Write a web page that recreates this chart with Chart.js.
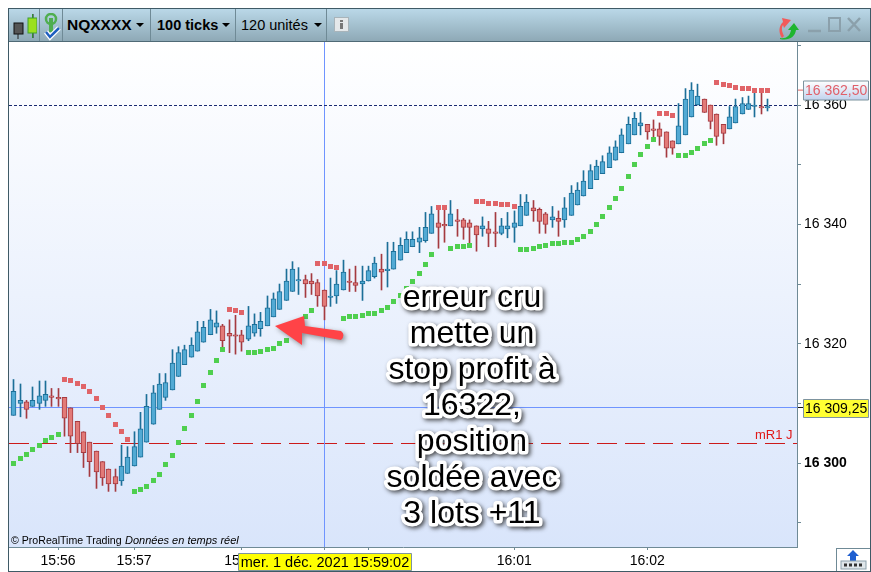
<!DOCTYPE html>
<html>
<head>
<meta charset="utf-8">
<title>NQXXXX</title>
<script src="https://cdn.jsdelivr.net/npm/chart.js@4/dist/chart.umd.min.js"></script>
<style>
  html, body { margin: 0; padding: 0; background: #fff; }
  body { width: 871px; height: 572px; position: relative; overflow: hidden; font-family: "Liberation Sans", Arial, sans-serif; color: #000; }
  #myChart { position: absolute; left: 0; top: 0; }
  #frame { position: absolute; left: 8px; top: 8px; width: 861px; height: 562px; border: 1px solid #3f5a66; pointer-events: none; }
  #toolbar { position: absolute; left: 9px; top: 9px; width: 861px; height: 32px; border-bottom: 1px solid #4f6a76; background: linear-gradient(#bad8e8, #8ea9b6); font-size: 15px; line-height: 32px; }
  #toolbar span, #toolbar i, #toolbar svg { position: absolute; }
  #toolbar i { top: 0; width: 1px; height: 32px; background: #6f8a96; }
  #toolbar .arrow { top: 14px; width: 0; height: 0; border-left: 4px solid transparent; border-right: 4px solid transparent; border-top: 4px solid #000; }
  #corner { position: absolute; left: 836px; top: 548px; width: 33px; height: 22px; border-left: 1px solid #6f8a96; border-top: 1px solid #6f8a96; }
</style>
</head>
<body>
<canvas id="myChart" width="871" height="572"></canvas>
<div id="toolbar">
  <svg style="left:4px;top:4px" width="24" height="26"><path d="M5 13v14M20 1v24" stroke="#222" stroke-width="1"/><rect x="1" y="10" width="9" height="11" fill="#555" stroke="#111"/><path d="M19.500 1v24" stroke="#2f8f2f"/><rect x="15" y="5" width="9" height="15" fill="#9be01f" stroke="#3f9f2f"/></svg>
  <i style="left:30px"></i>
  <svg style="left:34px;top:4px" width="20" height="28"><ellipse cx="8" cy="6" rx="5" ry="5" fill="none" stroke="#4fae4f" stroke-width="2.500"/><path d="M8 5v14" stroke="#4fae4f" stroke-width="4"/><path d="M3 19l4 5 9-9" fill="none" stroke="#fff" stroke-width="5"/><path d="M3 19l4 5 9-9" fill="none" stroke="#1f5fc0" stroke-width="2.500"/></svg>
  <i style="left:53px"></i>
  <span style="left:58px;font-weight:bold;font-size:15.500px">NQXXXX</span>
  <span class="arrow" style="left:127px"></span>
  <i style="left:141px"></i>
  <span style="left:148px;font-weight:bold;font-size:14.500px">100 ticks</span>
  <span class="arrow" style="left:213px"></span>
  <i style="left:226px"></i>
  <span style="left:232px;font-size:14.500px">120 unités</span>
  <span class="arrow" style="left:305px"></span>
  <i style="left:317px"></i>
  <svg style="left:325px;top:8px" width="16" height="16"><rect x="0.500" y="0.500" width="14" height="14" fill="#e4e8ea" stroke="#a8b4ba"/><rect x="6" y="3" width="3" height="2" fill="#777"/><rect x="6" y="6" width="3" height="6" fill="#777"/></svg>
  <svg style="left:764px;top:5px" width="28" height="26"><path d="M9 24C5 18 6 12 10 8l-1-4 9 2-7 8-1-3c-2 3-1 7 1 11z" fill="#f25a5a"/><path d="M7 24c6 1 10-2 11-8h-3l6-7 5 7h-3c-1 7-7 11-16 9z" fill="#1fb52f"/></svg>
  <svg style="left:797px;top:6px" width="58" height="20"><path d="M2 16h13" stroke="#8ba0ab" stroke-width="2.500"/><rect x="23" y="3" width="11" height="13" fill="none" stroke="#8ba0ab" stroke-width="2"/><path d="M42 3l12 13M54 3l-12 13" stroke="#8ba0ab" stroke-width="2.500"/></svg>
</div>
<div id="frame"></div>
<div id="corner">
  <svg width="33" height="22"><path d="M16 1l6 6h-3v5h-6V7h-3z" fill="#1f5fd0"/><rect x="4" y="12" width="25" height="8" fill="#dfe6ea" stroke="#8ba0ab"/><path d="M7 16h3M12 16h3M17 16h3M22 16h3" stroke="#333" stroke-width="3"/></svg>
</div>
<script>
const opens = [
  16308,16310,16310.25,16309.5,16310,16310.5,16311.25,16311,16311,16309.25,
  16307,16305.25,16303.5,16302,16300.25,16299,16297.75,16297,16298.25,16299.5,
  16301,16303.5,16306.5,16309,16311,16312.25,16314.5,16316.5,16317.75,16318.75,
  16320.25,16321.5,16322.75,16323,16321.75,16321.5,16321.5,16320.75,16321.75,16322.5,
  16323,16324.5,16325.75,16327.25,16328.75,16330.5,16330.75,16330.5,16330.25,16329,
  16327.75,16328,16329,16330.5,16330.25,16330,16330.5,16331.25,16332.5,16332.25,
  16332.5,16334,16335.25,16336.25,16337,16337.25,16338.5,16340.25,16340,16339.75,
  16340.75,16340.75,16340.25,16339.75,16339.25,16339.25,16338.75,16338.5,16339.25,16339.5,
  16339.75,16341.5,16342.75,16342.5,16341.75,16340.75,16341,16340.75,16341.5,16343.25,
  16344.75,16346,16347.5,16348.5,16349.5,16350.75,16352,16353.5,16355,16356.5,
  16356.75,16356,16356,16355.5,16354,16353.5,16355,16358,16360,16361,
  16360,16358.5,16356.75,16356,16357,16358.5,16359.25,16359.75,16359.75,16359.5
];
const highs = [
  16314,16313.25,16310.5,16312.75,16313.75,16313.75,16312.5,16312.5,16311,16309.25,
  16307,16305.25,16303.5,16302,16300.25,16299,16299,16303,16302.75,16305.25,
  16308.5,16311.5,16313,16315,16315,16319,16319.5,16319.75,16321,16323.75,
  16323.75,16325.75,16325.5,16323.25,16324,16324.75,16322.25,16326.25,16325,16325.25,
  16328,16328.5,16330,16332.5,16333.75,16332.75,16331.5,16331.75,16330.75,16329,
  16331,16332.25,16334,16332.5,16333,16333,16333,16334.5,16335,16337,
  16337,16337.75,16338.75,16338.75,16339.5,16342,16343,16342.5,16342.5,16344,
  16342.5,16341,16340.75,16339.75,16341.25,16340.5,16342,16341,16342,16342.25,
  16345,16345,16344,16342.75,16342,16343,16342.25,16344.5,16346.5,16347,
  16349,16350,16350.75,16351.5,16353,16354,16356,16358,16358.75,16358.75,
  16356.75,16357.5,16357,16355.5,16354,16360.25,16362.75,16363.75,16363.5,16361,
  16360,16358.5,16356.75,16359.75,16361,16361.25,16361.5,16362,16362,16361
];
const lows = [
  16308,16307.75,16307.5,16309.5,16309,16309.5,16309.5,16309.5,16304.5,16301.75,
  16301.75,16299.25,16297.75,16295.75,16296.25,16295.25,16295.25,16296.25,16298.25,16299.5,
  16301,16303.5,16306.5,16309,16310.5,16312.25,16314.5,16316.5,16317.75,16318.75,
  16320.25,16321.5,16321.75,16318.75,16318.5,16318.25,16318.75,16320.5,16321.25,16321.25,
  16323,16324.5,16325.75,16327.25,16328.75,16328.25,16327.75,16328.25,16326.25,16324,
  16326.25,16326.75,16329,16328.75,16328.75,16327.25,16330.5,16331,16329,16329.5,
  16332.5,16334,16335.25,16336.25,16335.25,16337,16338.5,16336,16337,16339.75,
  16338,16337.5,16336.75,16335.5,16338,16336.25,16336.25,16338.25,16337.75,16337,
  16339.75,16341.5,16340.5,16338.5,16338.5,16339.5,16338,16339.5,16341.5,16343.25,
  16344.75,16346,16347.5,16348.5,16349.5,16350.75,16352,16353.5,16355,16355,
  16354.25,16354,16353.25,16351.25,16351.75,16353.5,16355,16358,16360,16358.75,
  16356,16353.25,16353.5,16356,16357,16358.5,16359.25,16358,16358.5,16359
];
const closes = [
  16312,16310.5,16309,16310.5,16311.25,16311.5,16311,16310.75,16307.5,16304.5,
  16303.25,16301.75,16300.25,16298.5,16297.5,16296.5,16296.5,16299.5,16301,16302.75,
  16305.75,16309.5,16311.75,16313.25,16313.5,16316.75,16318.5,16319,16319.75,16322,
  16322.75,16324,16323.5,16320.5,16321.25,16321.25,16320.25,16323,16323.25,16323.75,
  16326,16327.5,16328.75,16330.5,16332.5,16330.75,16330,16330,16328,16326.25,
  16328,16330,16332,16330.25,16329.75,16330.5,16332.25,16333.5,16332,16332.5,
  16335.5,16336.5,16337.5,16337.5,16337.75,16339.5,16341.75,16339.5,16339.75,16341.75,
  16340.5,16339.5,16339.5,16338.25,16339.75,16338.5,16338.5,16339.75,16339.75,16340.25,
  16343,16343.75,16342.25,16340.5,16340,16341.25,16340.5,16342.75,16345.25,16345.75,
  16347.25,16349,16349.75,16350.5,16352,16353,16355,16356.75,16357.75,16357,
  16355.5,16355.75,16354.75,16352.75,16352.75,16356.5,16361,16362.5,16361.5,16358.75,
  16357.25,16354.75,16355.25,16358,16359.75,16360.25,16360.25,16360,16359.5,16359.75
];
const _ = null;
const stopUp = [
  16300,16300.75,16301.5,16302.25,16303,16303.75,16304.25,16304.75,_,_,
  _,_,_,_,_,_,_,_,_,16295.25,
  16295.5,16296,16297,16298,16299.75,16301.25,16303.5,16305.75,16308,16310.25,
  16313,16315.25,16317.25,16319,_,_,_,16318.5,16318.5,16318.75,
  16319,16319.25,16320,16320.5,16321.75,16323,16324.5,16325.5,_,_,
  _,_,16324.25,16324.5,16324.5,16324.75,16325,16325,16325.5,16326,
  16327,16328,16329.25,16330.5,16331.75,16333.25,16335,_,_,16336,
  16336.25,16336.25,16336.5,_,_,_,_,_,_,_,
  16335.75,16335.75,16336,16336.25,16336.5,16336.75,16336.75,16337,16337,16337.5,
  16338,16338.75,16340,16341.25,16342.75,16344.25,16346,16348,16350,16351.75,
  16353,16354.25,_,_,_,16351.5,16351.5,16352,16352.75,16353.5,
  16354,_,_,_,_,_,_,_,_,_
];
const stopDown = [
  _,_,_,_,_,_,_,_,16314,16313.75,
  16313.25,16312.75,16312,16310.75,16309.25,16308,16306.5,16305.25,16304,_,
  _,_,_,_,_,_,_,_,_,_,
  _,_,_,_,16325.75,16325.5,16325.25,_,_,_,
  _,_,_,_,_,_,_,_,16333.5,16333.5,
  16333,16332.75,_,_,_,_,_,_,_,_,
  _,_,_,_,_,_,_,16342.75,16342.75,_,
  _,_,_,16343.75,16343.75,16343.5,16343.5,16343.25,16343.25,16343,
  _,_,_,_,_,_,_,_,_,_,
  _,_,_,_,_,_,_,_,_,_,
  _,_,16358.5,16358.5,16358.25,_,_,_,_,_,
  _,16363.75,16363.5,16363.25,16363,16362.75,16362.75,16362.5,16362.5,16362.5
];
const xTickIndex = [7, 19, 36, 49, 56, 79, 100];
const xTickLabels = ['15:56', '15:57', '15:58', '15:59', '16:00', '16:01', '16:02'];
const yTickValues = [16290, 16300, 16310, 16320, 16330, 16340, 16350, 16360, 16370];
const yTickLabels = ['', '16 300', '', '16 320', '', '16 340', '', '16 360', ''];
const lastPrice = 16359.95;
const topPrice = 16362.5;
const crossPrice = 16309.25;
const crossIndex = 49;
const levelPrice = 16303.3;
const noteLines = ['erreur cru', 'mette un', 'stop profit à', '16322,', 'position', 'soldée avec', '3 lots +11'];

const candleIdx = opens.map((v, i) => i);
const isUp = opens.map((o, i) => closes[i] >= o);
const FONT = '"Liberation Sans", Arial, sans-serif';

const chartDecor = {
  id: 'chartDecor',
  beforeDraw(chart) {
    const { ctx, chartArea: a } = chart;
    const g = ctx.createLinearGradient(0, a.top, 0, a.bottom);
    g.addColorStop(0, '#ffffff');
    g.addColorStop(1, '#d9e5fb');
    ctx.fillStyle = g;
    ctx.fillRect(a.left, a.top, a.right - a.left, a.bottom - a.top);
  },
  beforeDatasetsDraw(chart) {
    const { ctx, chartArea: a, scales: { x, y } } = chart;
    // snap candles and squares on whole pixels, they get blurry otherwise
    chart.data.datasets.forEach((d, n) => {
      chart.getDatasetMeta(n).data.forEach((el) => {
        el.x = Math.floor(el.x) + 0.5;
        if (d.type === 'line') el.y = Math.floor(el.y) + 0.5;
      });
    });
    const hline = (py, color, dash) => {
      ctx.save();
      ctx.strokeStyle = color;
      ctx.lineWidth = 1;
      ctx.setLineDash(dash);
      ctx.beginPath();
      ctx.moveTo(a.left, Math.floor(py) + 0.5);
      ctx.lineTo(a.right, Math.floor(py) + 0.5);
      ctx.stroke();
      ctx.restore();
    };
    hline(y.getPixelForValue(levelPrice), '#cc1a1a', [20, 8]);
    hline(y.getPixelForValue(crossPrice), '#6f94ff', []);
    ctx.strokeStyle = '#6f94ff';
    ctx.lineWidth = 1;
    ctx.beginPath();
    const cx = Math.floor(x.getPixelForValue(crossIndex)) + 0.5;
    ctx.moveTo(cx, a.top);
    ctx.lineTo(cx, a.bottom);
    ctx.stroke();
    hline(y.getPixelForValue(lastPrice), '#1a2a70', [3, 2]);
  },
  afterDraw(chart) {
    const { ctx, chartArea: a, scales: { y } } = chart;
    ctx.save();
    // frame of the price panel
    ctx.strokeStyle = '#6f8a96';
    ctx.lineWidth = 1;
    ctx.beginPath();
    ctx.moveTo(a.right + 0.5, a.top);
    ctx.lineTo(a.right + 0.5, a.bottom);
    ctx.stroke();

    // red arrow
    ctx.save();
    ctx.shadowColor = 'rgba(60,60,60,0.55)';
    ctx.shadowBlur = 5;
    ctx.shadowOffsetX = 2;
    ctx.shadowOffsetY = 2;
    ctx.fillStyle = '#ff4347';
    ctx.beginPath();
    ctx.moveTo(275, 326);
    ctx.lineTo(304, 316);
    ctx.lineTo(305, 326);
    ctx.lineTo(341, 331);
    ctx.quadraticCurveTo(346, 335, 341, 340);
    ctx.lineTo(302, 333);
    ctx.lineTo(302, 345);
    ctx.closePath();
    ctx.fill();
    ctx.restore();

    // comment on top of the chart
    ctx.font = '32px ' + FONT;
    ctx.textAlign = 'center';
    ctx.textBaseline = 'middle';
    ctx.lineJoin = 'round';
    noteLines.forEach((line, i) => {
      const ly = 298 + i * 36;
      ctx.save();
      ctx.shadowColor = 'rgba(40,40,40,0.8)';
      ctx.shadowBlur = 4;
      ctx.shadowOffsetX = 2;
      ctx.shadowOffsetY = 2;
      ctx.strokeStyle = '#fff';
      ctx.lineWidth = 7;
      ctx.strokeText(line, 472, ly);
      ctx.restore();
    });
    noteLines.forEach((line, i) => {
      const ly = 298 + i * 36;
      ctx.strokeStyle = '#fff';
      ctx.lineWidth = 6;
      ctx.strokeText(line, 472, ly);
      ctx.fillStyle = '#000';
      ctx.fillText(line, 472, ly);
    });

    ctx.textAlign = 'left';
    ctx.textBaseline = 'middle';
    ctx.fillStyle = '#e01818';
    ctx.font = '13px ' + FONT;
    ctx.fillText('mR1 J', 755, 435);
    ctx.fillStyle = '#000';
    ctx.font = '10.6px ' + FONT;
    ctx.fillText('© ProRealTime Trading', 11, 541);
    ctx.font = 'italic 11px ' + FONT;
    ctx.fillText('Données en temps réel', 125, 541);

    // price flags on the right axis
    ctx.lineWidth = 1;
    const flag = (py, h, fill, stroke, color, text) => {
      ctx.fillStyle = fill;
      ctx.fillRect(803.5, py - h / 2, 65, h);
      ctx.strokeStyle = stroke;
      ctx.strokeRect(803.5, py - h / 2, 65, h);
      ctx.fillStyle = color;
      ctx.font = '14px ' + FONT;
      ctx.fillText(text, 805, py + 1);
    };
    const topY = y.getPixelForValue(topPrice);
    ctx.strokeStyle = '#e06060';
    ctx.beginPath();
    ctx.moveTo(798, topY);
    ctx.lineTo(804, topY);
    ctx.stroke();
    const flagGrad = ctx.createLinearGradient(0, topY - 9, 0, topY + 9);
    flagGrad.addColorStop(0, '#ffffff');
    flagGrad.addColorStop(1, '#c4d4ee');
    flag(Math.round(topY) + 0.5, 19, flagGrad, '#7d939e', '#e0606a', '16 362,50');
    const crossY = y.getPixelForValue(crossPrice);
    ctx.strokeStyle = '#111';
    ctx.beginPath();
    ctx.moveTo(798, Math.floor(crossY) + 0.5);
    ctx.lineTo(804, Math.floor(crossY) + 0.5);
    ctx.stroke();
    flag(Math.round(crossY) + 0.5, 18, '#ffff33', '#7d939e', '#000', '16 309,25');

    // date of the crosshair
    ctx.fillStyle = '#ffff00';
    ctx.fillRect(238.5, 553.5, 173, 17);
    ctx.strokeStyle = '#7d939e';
    ctx.strokeRect(238.5, 553.5, 173, 17);
    ctx.fillStyle = '#000';
    ctx.font = '14.500px ' + FONT;
    ctx.textAlign = 'center';
    ctx.fillText('mer. 1 déc. 2021 15:59:02', 325, 563);
    ctx.restore();
  }
};

const ctx = document.getElementById('myChart');
new Chart(ctx, {
  type: 'bar',
  plugins: [chartDecor],
  data: {
    datasets: [
      {
        type: 'line',
        data: candleIdx.map((i) => ({ x: i, y: stopUp[i] })),
        showLine: false,
        pointStyle: 'rect',
        pointRadius: 3.536,
        pointBorderWidth: 0,
        backgroundColor: '#4fcf4f',
        order: 1
      },
      {
        type: 'line',
        data: candleIdx.map((i) => ({ x: i, y: stopDown[i] })),
        showLine: false,
        pointStyle: 'rect',
        pointRadius: 3.536,
        pointBorderWidth: 0,
        backgroundColor: '#e06468',
        order: 1
      },
      {
        data: candleIdx.map((i) => ({ x: i, y: [opens[i], closes[i]] })),
        grouped: false,
        barThickness: 5,
        borderWidth: 1,
        borderSkipped: false,
        backgroundColor: isUp.map((up) => (up ? '#52aad4' : '#e27a78')),
        borderColor: isUp.map((up) => (up ? '#1c6f98' : '#a53a40')),
        order: 2
      },
      {
        data: candleIdx.map((i) => ({ x: i, y: [lows[i], highs[i]] })),
        grouped: false,
        barThickness: 1,
        borderWidth: 0,
        backgroundColor: isUp.map((up) => (up ? '#1c6f98' : '#a53a40')),
        order: 3
      }
    ]
  },
  options: {
    responsive: false,
    animation: false,
    layout: { padding: { left: 9, top: 42, right: 0, bottom: 0 } },
    plugins: { legend: { display: false }, tooltip: { enabled: false } },
    scales: {
      x: {
        type: 'linear',
        offset: false,
        min: -0.75,
        max: 123.64,
        afterFit: (scale) => { scale.height = 25; },
        afterBuildTicks: (scale) => { scale.ticks = xTickIndex.map((v) => ({ value: v })); },
        grid: { offset: false, drawOnChartArea: false, tickLength: 3, color: '#6f8a96' },
        border: { color: '#6f8a96' },
        ticks: {
          autoSkip: false,
          maxRotation: 0,
          padding: 3,
          color: '#000',
          font: { family: FONT, size: 14 },
          callback: (v) => xTickLabels[xTickIndex.indexOf(v)]
        }
      },
      y: {
        position: 'right',
        min: 16285.93,
        max: 16370.56,
        afterFit: (scale) => { scale.width = 74; },
        afterBuildTicks: (scale) => { scale.ticks = yTickValues.map((v) => ({ value: v })); },
        grid: { drawOnChartArea: false, tickLength: 4, color: '#6f8a96' },
        border: { display: false },
        ticks: {
          autoSkip: false,
          padding: 3,
          color: '#000',
          font: (c) => ({ family: FONT, size: 14, weight: c.tick && c.tick.value === 16300 ? 'bold' : 'normal' }),
          callback: (v) => yTickLabels[yTickValues.indexOf(v)]
        }
      }
    }
  }
});
</script>
</body>
</html>
